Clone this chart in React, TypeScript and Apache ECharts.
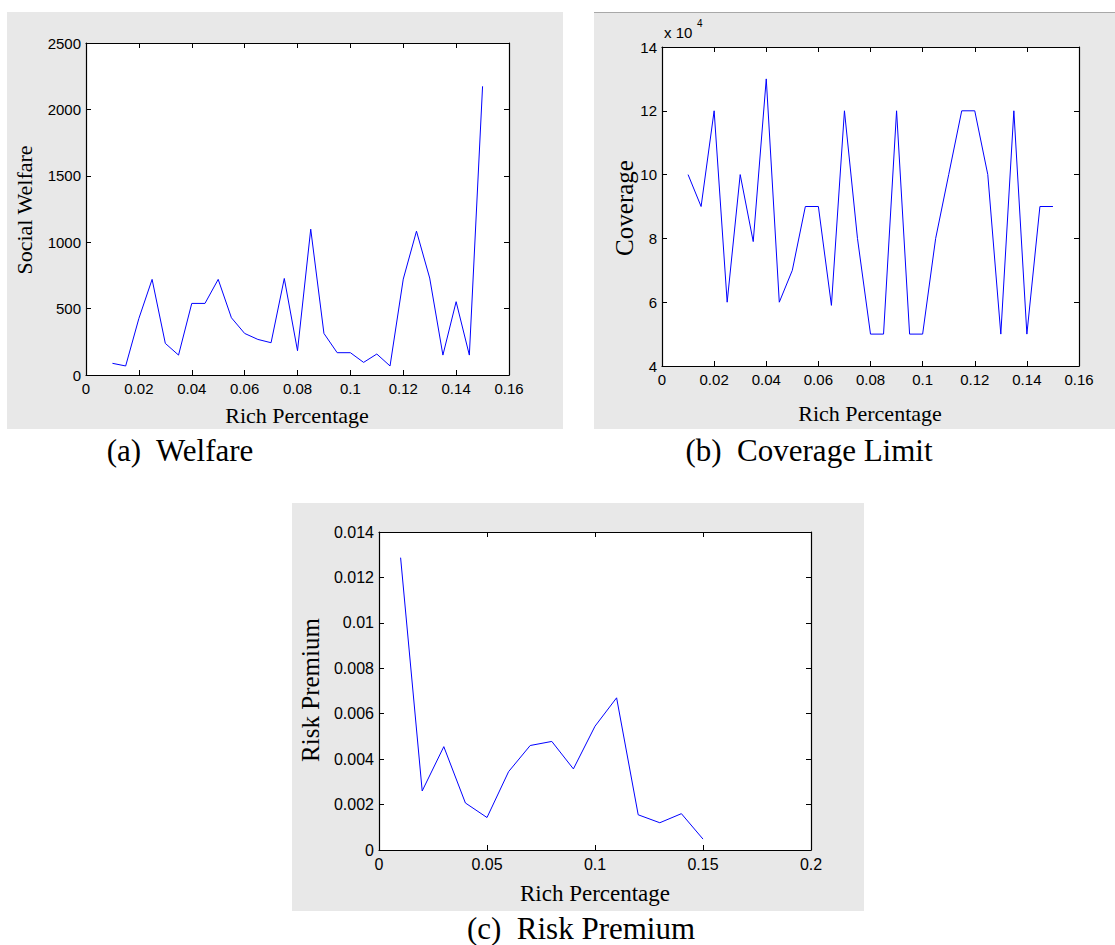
import React, { useEffect, useRef } from "react";
import * as echarts from "echarts";

// ---------- data ----------
const welfareX = [0.01, 0.015, 0.02, 0.025, 0.03, 0.035, 0.04, 0.045, 0.05, 0.055, 0.06, 0.065, 0.07, 0.075, 0.08, 0.085, 0.09, 0.095, 0.1, 0.105, 0.11, 0.115, 0.12, 0.125, 0.13, 0.135, 0.14, 0.145, 0.15];
const welfareY = [88, 68, 426, 720, 238, 150, 539, 539, 720, 431, 313, 268, 243, 727, 183, 1098, 313, 168, 168, 95, 158, 68, 722, 1083, 730, 150, 552, 150, 2174];

const coverageX = welfareX;
const coverageY = [100000, 90000, 120000, 60000, 100000, 79000, 130000, 60000, 70000, 90000, 90000, 59000, 120000, 80000, 50000, 50000, 120000, 50000, 50000, 80000, 100000, 120000, 120000, 100000, 50000, 120000, 50000, 90000, 90000];

const premiumX = [0.01, 0.02, 0.03, 0.04, 0.05, 0.06, 0.07, 0.08, 0.09, 0.1, 0.11, 0.12, 0.13, 0.14, 0.15];
const premiumY = [0.01287, 0.0026, 0.00455, 0.00207, 0.00143, 0.00345, 0.0046, 0.00478, 0.00357, 0.00545, 0.0067, 0.00155, 0.0012, 0.0016, 0.00048];

const xTitle = "Rich Percentage";
const yTitles = ["Social Welfare", "Coverage", "Risk Premium"];
const captions = ["(a)  Welfare", "(b)  Coverage Limit", "(c)  Risk Premium"];

// ---------- helpers ----------
const SERIF = "Liberation Serif";
const SANS = "Liberation Sans";
const fmt = (v: number) => String(+Number(v).toFixed(5));

function axisPair(gridIndex: number, min: number, max: number, interval: number, fontSize: number, isX: boolean, formatter?: (v: number) => string) {
  const common = {
    type: "value" as const,
    gridIndex,
    min,
    max,
    interval,
    splitLine: { show: false },
    axisLine: { show: true, onZero: false, lineStyle: { color: "#000", width: 1.2 } },
    axisTick: { show: true, inside: true, length: 5, lineStyle: { color: "#000", width: 1 } },
  };
  const main = {
    ...common,
    position: isX ? "bottom" : "left",
    axisLabel: {
      show: true,
      margin: isX ? 6 : 5,
      color: "#000",
      fontFamily: SANS,
      fontSize,
      formatter: formatter || fmt,
    },
  };
  const mirror = {
    ...common,
    position: isX ? "top" : "right",
    axisLabel: { show: false },
  };
  return [main, mirror];
}

export default function App() {
  const ref = useRef<HTMLDivElement>(null);
  useEffect(() => {
    if (!ref.current) return;
    const chart = echarts.init(ref.current, null, { renderer: "svg" });

    const grids = [
      { left: 86, top: 43, width: 423, height: 332 },
      { left: 662, top: 47, width: 417, height: 319 },
      { left: 379, top: 532, width: 432, height: 318 },
    ].map((g) => ({ ...g, show: true, backgroundColor: "#fff", borderWidth: 0, containLabel: false }));

    const xAxes = [
      ...axisPair(0, 0, 0.16, 0.02, 15, true),
      ...axisPair(1, 0, 0.16, 0.02, 15, true),
      ...axisPair(2, 0, 0.2, 0.05, 16, true),
    ];
    const yAxes = [
      ...axisPair(0, 0, 2500, 500, 15, false),
      ...axisPair(1, 40000, 140000, 20000, 15, false, (v: number) => String(v / 10000)),
      ...axisPair(2, 0, 0.014, 0.002, 16, false),
    ];

    const lineSeries = (xs: number[], ys: number[], idx: number) => ({
      type: "line",
      xAxisIndex: idx * 2,
      yAxisIndex: idx * 2,
      data: xs.map((x, i) => [x, ys[i]]),
      showSymbol: false,
      symbol: "none",
      lineStyle: { color: "#0000ff", width: 1 },
      itemStyle: { color: "#0000ff" },
      z: 3,
    });

    const txt = (text: string, x: number, y: number, size: number, family: string, rotate = false) => ({
      type: "text",
      x,
      y,
      rotation: rotate ? Math.PI / 2 : 0,
      z: 10,
      style: {
        text,
        fill: "#000",
        font: `${size}px "${family}"`,
        align: "center",
        verticalAlign: "middle",
      },
    });

    chart.setOption({
      animation: false,
      backgroundColor: "#fff",
      grid: grids,
      xAxis: xAxes,
      yAxis: yAxes,
      series: [
        lineSeries(welfareX, welfareY, 0),
        lineSeries(coverageX, coverageY, 1),
        lineSeries(premiumX, premiumY, 2),
      ],
      graphic: [
        { type: "rect", z: -10, shape: { x: 7, y: 12, width: 556, height: 417 }, style: { fill: "#e8e8e8" } },
        { type: "rect", z: -10, shape: { x: 594, y: 12, width: 521, height: 417 }, style: { fill: "#e8e8e8" } },
        { type: "line", z: -9, shape: { x1: 594, y1: 12.5, x2: 1115, y2: 12.5 }, style: { stroke: "#a8a8a8", lineWidth: 1 } },
        { type: "rect", z: -10, shape: { x: 292, y: 503, width: 572, height: 408 }, style: { fill: "#e8e8e8" } },
        txt(yTitles[0], 24, 210, 22, SERIF, true),
        txt(xTitle, 297, 415, 22, SERIF),
        txt(captions[0], 180, 450, 31, SERIF),
        txt(yTitles[1], 624, 208, 25, SERIF, true),
        txt(xTitle, 870, 413, 22, SERIF),
        txt(captions[1], 809, 450, 31, SERIF),
        {
          type: "text", x: 664, y: 32, z: 10,
          style: { text: "x 10", fill: "#000", font: `15px "${SANS}"`, align: "left", verticalAlign: "middle" },
        },
        {
          type: "text", x: 697, y: 23, z: 10,
          style: { text: "4", fill: "#000", font: `10px "${SANS}"`, align: "left", verticalAlign: "middle" },
        },
        txt(yTitles[2], 310, 690, 25, SERIF, true),
        txt(xTitle, 595, 893, 23, SERIF),
        txt(captions[2], 581, 928, 31, SERIF),
      ],
    });
    return () => chart.dispose();
  }, []);

  return <div ref={ref} style={{ position: "fixed", left: 0, top: 0, width: 1115, height: 945 }} />;
}
